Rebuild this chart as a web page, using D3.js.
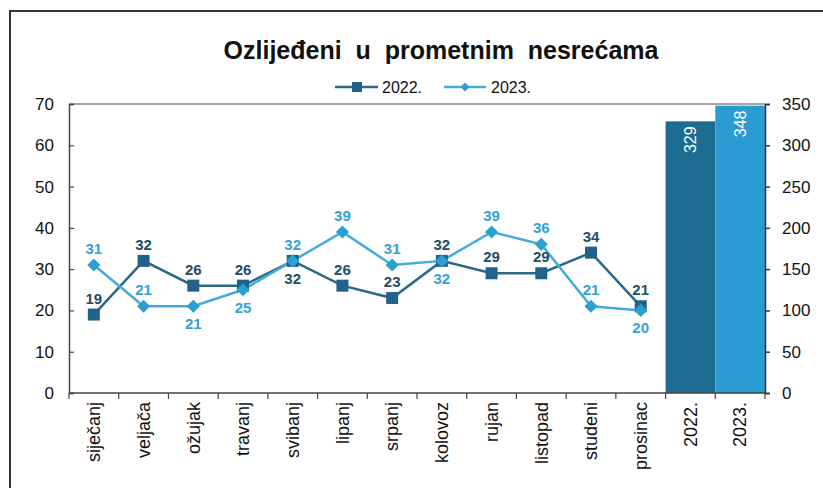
<!DOCTYPE html>
<html>
<head>
<meta charset="utf-8">
<script src="https://cdn.jsdelivr.net/npm/d3@7"></script>
<style>
  body { margin: 0; background: #fff; }
  svg { font-family: "Liberation Sans", Arial, sans-serif; }
</style>
</head>
<body>
<div id="chart"></div>
<script>
const months = ["siječanj", "veljača", "ožujak", "travanj", "svibanj", "lipanj",
  "srpanj", "kolovoz", "rujan", "listopad", "studeni", "prosinac"];
const years = ["2022.", "2023."];
const values2022 = [19, 32, 26, 26, 32, 26, 23, 32, 29, 29, 34, 21];
const values2023 = [31, 21, 21, 25, 32, 39, 31, 32, 39, 36, 21, 20];
const totals = [329, 348];
const leftTicks = [0, 10, 20, 30, 40, 50, 60, 70];
const rightTicks = [0, 50, 100, 150, 200, 250, 300, 350];
// where each point label sits relative to its marker
const place2022 = ["a", "a", "a", "a", "b", "a", "a", "a", "a", "a", "a", "a"];
const place2023 = ["a", "a", "b", "b", "a", "a", "a", "b", "a", "a", "a", "b"];

const width = 823, height = 488;
const plotL = 69, plotR = 765, plotT = 104, plotB = 393;

const col2022 = { line: "#2c6987", mark: "#22628a", text: "#1f4d66", bar: "#1d6d93" };
const col2023 = { line: "#45aadb", mark: "#2a9fd2", text: "#33a2d6", bar: "#2b9bd3" };

const svg = d3.select("#chart").append("svg")
  .attr("width", width)
  .attr("height", height);

// outer frame (scan shows only top and left edges)
svg.append("path")
  .attr("d", `M10,${height} V11 H${width}`)
  .attr("fill", "none")
  .attr("stroke", "#333")
  .attr("stroke-width", 2);

const categories = months.concat(years);

const x = d3.scaleBand().domain(categories).range([plotL, plotR]).padding(0);
const y = d3.scaleLinear().domain([0, 70]).range([plotB, plotT]);
const y2 = d3.scaleLinear().domain([0, 350]).range([plotB, plotT]);

// title
svg.append("text")
  .attr("x", 441).attr("y", 59)
  .attr("text-anchor", "middle")
  .style("font-size", "25px")
  .style("font-weight", "bold")
  .style("white-space", "pre")
  .attr("fill", "#111")
  .text("Ozlijeđeni  u  prometnim  nesrećama");

// legend
const legend = svg.append("g").attr("transform", "translate(0,87)");
legend.append("line").attr("x1", 335).attr("x2", 378).attr("stroke", col2022.line).attr("stroke-width", 2.5);
legend.append("rect").attr("x", 352).attr("y", -5).attr("width", 10).attr("height", 10).attr("fill", col2022.mark);
legend.append("text").attr("x", 382).attr("y", 6).style("font-size", "16px").attr("fill", "#111").text("2022.");
legend.append("line").attr("x1", 444).attr("x2", 486).attr("stroke", col2023.line).attr("stroke-width", 2.5);
legend.append("path").attr("d", d3.symbol(d3.symbolDiamond2, 50)()).attr("transform", "translate(465,0)").attr("fill", col2023.mark);
legend.append("text").attr("x", 491).attr("y", 6).style("font-size", "16px").attr("fill", "#111").text("2023.");

// top frame of plot area
svg.append("line")
  .attr("x1", plotL).attr("x2", plotR)
  .attr("y1", plotT).attr("y2", plotT)
  .attr("stroke", "#888").attr("stroke-width", 1.5);

// yearly total bars on the right axis
svg.append("g").selectAll("rect")
  .data(years)
  .join("rect")
  .attr("x", d => x(d))
  .attr("width", x.bandwidth())
  .attr("y", (d, i) => y2(totals[i]))
  .attr("height", (d, i) => plotB - y2(totals[i]))
  .attr("fill", (d, i) => i === 0 ? col2022.bar : col2023.bar);

svg.append("g").selectAll("text")
  .data(years)
  .join("text")
  .attr("transform", (d, i) => `translate(${x(d) + x.bandwidth() / 2},${y2(totals[i]) + 5}) rotate(-90)`)
  .attr("text-anchor", "end")
  .attr("dy", "0.35em")
  .attr("fill", "#fff")
  .style("font-size", "16px")
  .text((d, i) => totals[i]);

// left axis
const axL = svg.append("g")
  .attr("transform", `translate(${plotL},0)`)
  .call(d3.axisLeft(y).tickValues(leftTicks).tickSize(-5).tickPadding(15));
axL.select(".domain").attr("stroke", "#444").attr("stroke-width", 1.5);
axL.selectAll(".tick line").attr("stroke", "#444").attr("stroke-width", 1.2);
axL.selectAll("text").style("font-size", "17px").style("font-family", "Liberation Sans, Arial").attr("fill", "#111");

// right axis
const axR = svg.append("g")
  .attr("transform", `translate(${plotR},0)`)
  .call(d3.axisRight(y2).tickValues(rightTicks).tickSize(5).tickPadding(12));
axR.select(".domain").attr("stroke", "#333").attr("stroke-width", 1.5);
axR.selectAll(".tick line").attr("stroke", "#333").attr("stroke-width", 1.5);
axR.selectAll("text").style("font-size", "17px").style("font-family", "Liberation Sans, Arial").attr("fill", "#111");

// bottom axis: ticks at band edges, labels rotated
const bx = svg.append("g");
bx.append("line")
  .attr("x1", plotL).attr("x2", plotR)
  .attr("y1", plotB).attr("y2", plotB)
  .attr("stroke", "#444").attr("stroke-width", 1.5);
const edges = categories.map(c => x(c)).concat([x.range()[1]]);
bx.selectAll("line.tk")
  .data(edges)
  .join("line")
  .attr("class", "tk")
  .attr("x1", d => d).attr("x2", d => d)
  .attr("y1", plotB).attr("y2", plotB + 6)
  .attr("stroke", "#444").attr("stroke-width", 1.2);
bx.selectAll("text")
  .data(categories)
  .join("text")
  .attr("transform", d => `translate(${x(d) + x.bandwidth() / 2},402) rotate(-90)`)
  .attr("text-anchor", "end")
  .attr("dy", "0.35em")
  .attr("fill", "#111")
  .style("font-size", "18px")
  .text(d => d);

// monthly lines
const cx = d => x(d) + x.bandwidth() / 2;
const series = [
  { vals: values2022, col: col2022, shape: "square", place: place2022 },
  { vals: values2023, col: col2023, shape: "diamond", place: place2023 }
];

series.forEach(s => {
  const pts = months.map((m, i) => [cx(m), y(s.vals[i])]);
  svg.append("path")
    .attr("d", d3.line()(pts))
    .attr("fill", "none")
    .attr("stroke", s.col.line)
    .attr("stroke-width", 2.5);
});

series.forEach(s => {
  const g = svg.append("g");
  months.forEach((m, i) => {
    const px = cx(m), py = y(s.vals[i]);
    if (s.shape === "square") {
      g.append("rect")
        .attr("x", px - 6).attr("y", py - 6)
        .attr("width", 12).attr("height", 12)
        .attr("fill", s.col.mark);
    } else {
      g.append("path")
        .attr("d", d3.symbol(d3.symbolDiamond2, 110)())
        .attr("transform", `translate(${px},${py})`)
        .attr("fill", s.col.mark);
    }
    g.append("text")
      .attr("x", px)
      .attr("y", s.place[i] === "a" ? py - 11 : py + 23)
      .attr("text-anchor", "middle")
      .attr("fill", s.col.text)
      .style("font-size", "15px")
      .style("font-weight", "bold")
      .text(s.vals[i]);
  });
});
</script>
</body>
</html>
